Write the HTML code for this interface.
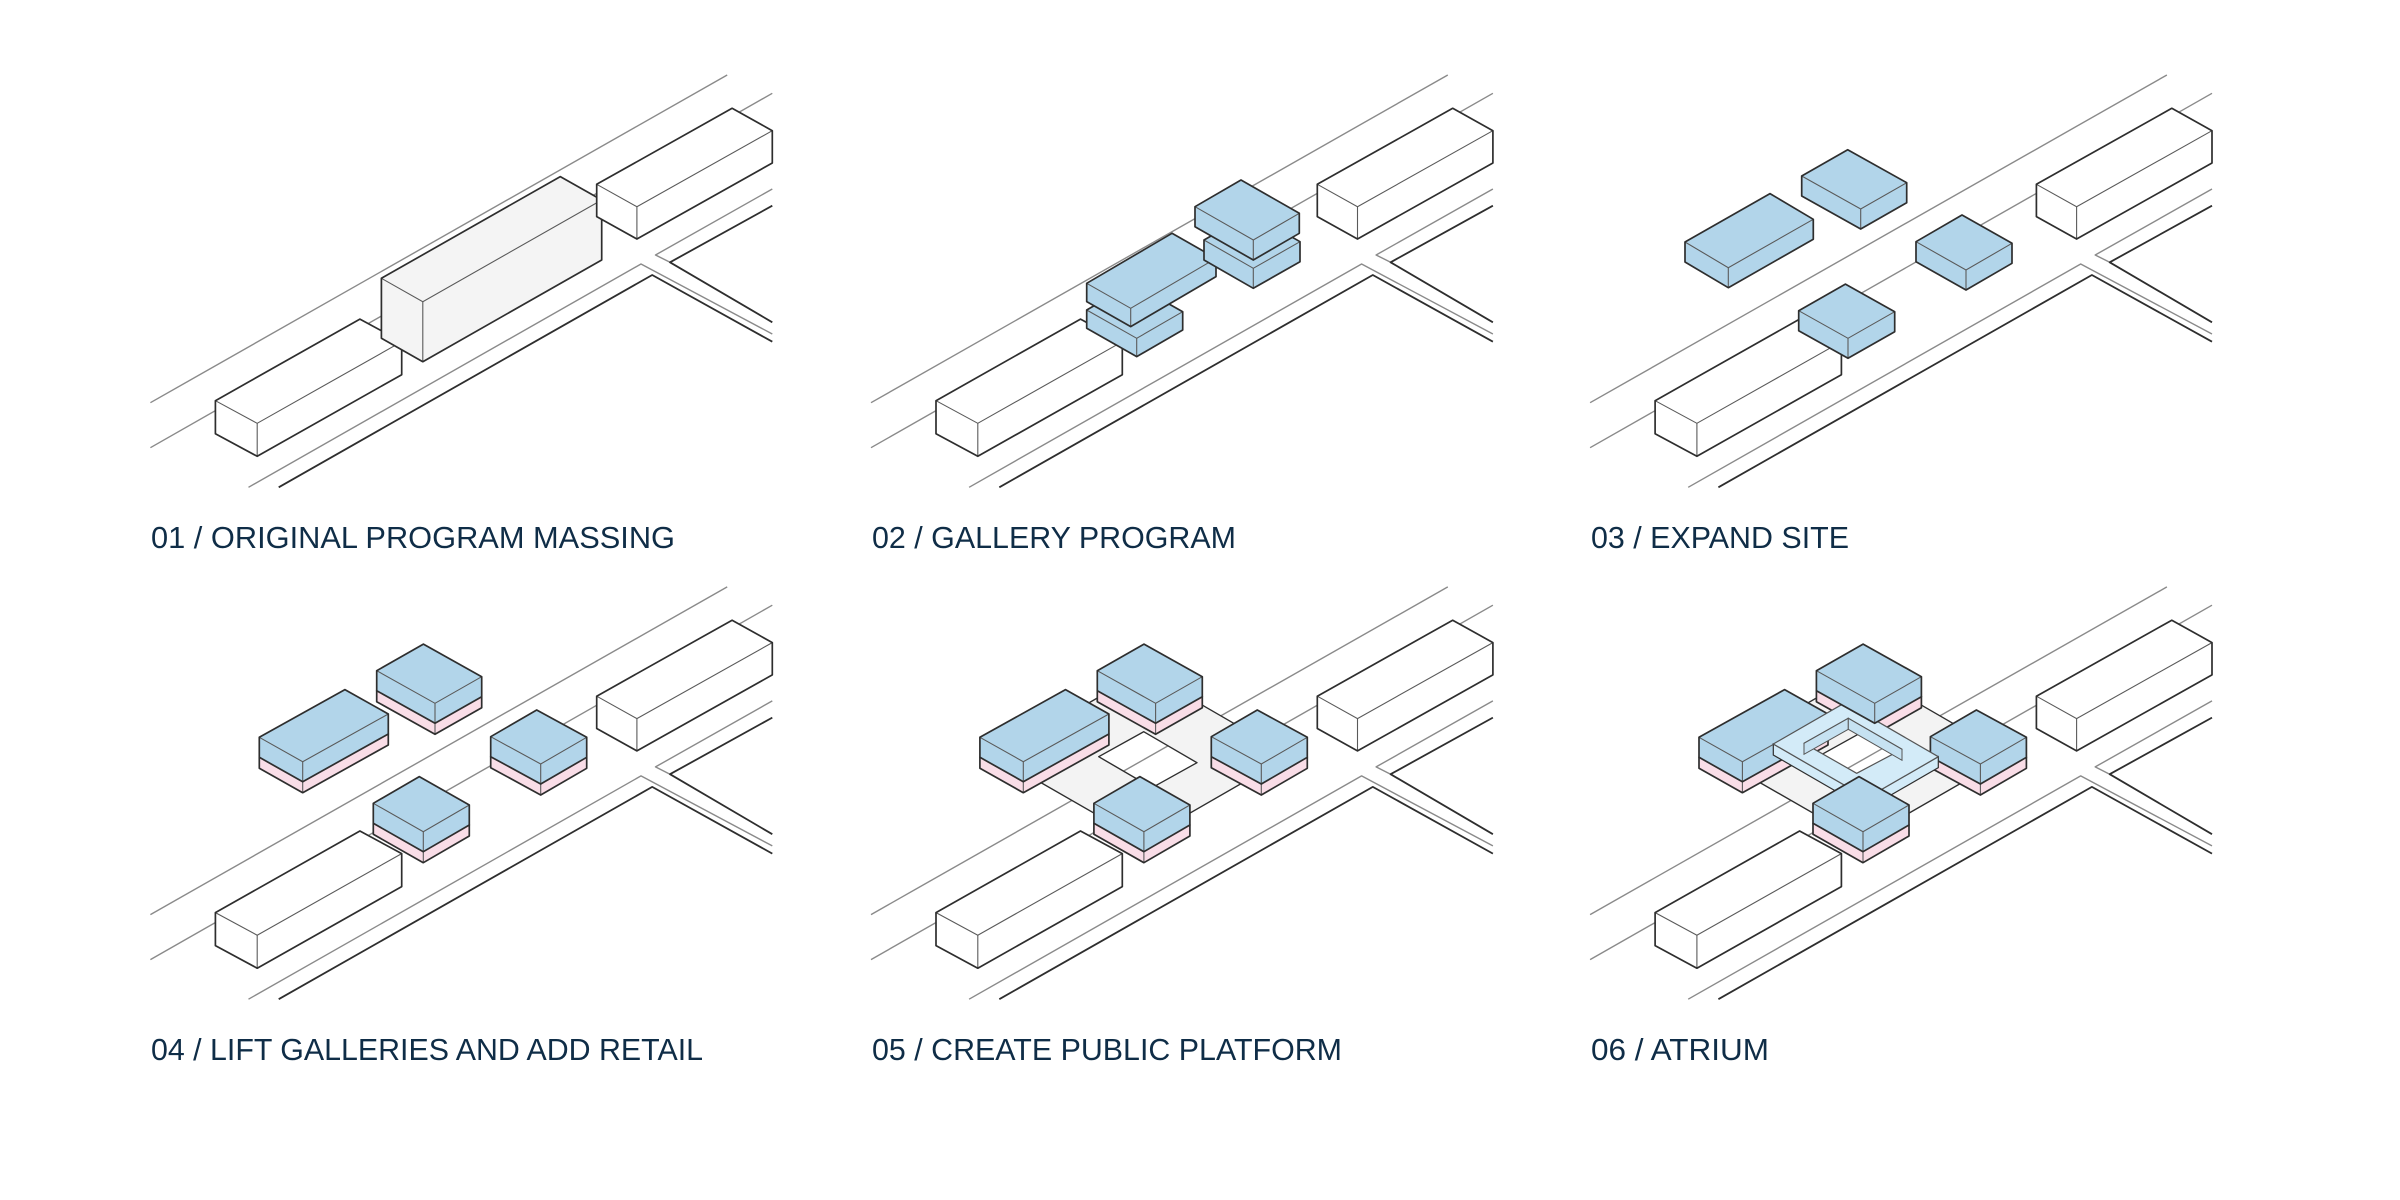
<!DOCTYPE html>
<html><head><meta charset="utf-8"><style>
html,body{margin:0;padding:0;background:#fff;}
svg{display:block;}
text{font-family:"Liberation Sans",sans-serif;font-size:31px;fill:#0f2d47;}
</style></head><body>
<svg id="s" xmlns="http://www.w3.org/2000/svg" width="2400" height="1200" viewBox="0 0 2400 1200">
<rect width="2400" height="1200" fill="#fff"/>
<g id="g"></g>
<text x="151" y="548" textLength="524" lengthAdjust="spacingAndGlyphs">01 / ORIGINAL PROGRAM MASSING</text>
<text x="872" y="548" textLength="364" lengthAdjust="spacingAndGlyphs">02 / GALLERY PROGRAM</text>
<text x="1591" y="548" textLength="258" lengthAdjust="spacingAndGlyphs">03 / EXPAND SITE</text>
<text x="151" y="1060" textLength="552" lengthAdjust="spacingAndGlyphs">04 / LIFT GALLERIES AND ADD RETAIL</text>
<text x="872" y="1060" textLength="470" lengthAdjust="spacingAndGlyphs">05 / CREATE PUBLIC PLATFORM</text>
<text x="1591" y="1060" textLength="178" lengthAdjust="spacingAndGlyphs">06 / ATRIUM</text>
</svg>
<script>
var G=document.getElementById('g'),NS='http://www.w3.org/2000/svg';
var GRAY='#8a8a8a',DARK='#2e2e2e';
var BLUE='#b2d5ea',PINK='#f9dde7',RING='#d3ebf8',PLAT='#f3f3f3';
function el(t,a){var e=document.createElementNS(NS,t);for(var k in a)e.setAttribute(k,a[k]);G.appendChild(e);return e;}
function P(a){return a.map(function(p){return p[0].toFixed(1)+','+p[1].toFixed(1)}).join(' ');}
function line(pts,c,w,ox,oy){el('polyline',{points:P(pts.map(function(p){return[p[0]+ox,p[1]+oy]})),fill:'none',stroke:c,'stroke-width':w,'stroke-linejoin':'round'});}
function box(L,F,R,h,fill,ox,oy){
 ox=ox||0;oy=oy||0;
 L=[L[0]+ox,L[1]+oy];F=[F[0]+ox,F[1]+oy];R=[R[0]+ox,R[1]+oy];
 var B=[L[0]+R[0]-F[0],L[1]+R[1]-F[1]];
 var d=function(p){return[p[0],p[1]+h]};
 el('polygon',{points:P([L,B,R,d(R),d(F),d(L)]),fill:fill,stroke:'none'});
 el('polyline',{points:P([L,F,R]),fill:'none',stroke:'#5a5a5a','stroke-width':1.1});
 el('line',{x1:F[0],y1:F[1],x2:F[0],y2:F[1]+h,stroke:'#5a5a5a','stroke-width':1.1});
 el('polygon',{points:P([L,B,R,d(R),d(F),d(L)]),fill:'none',stroke:DARK,'stroke-width':1.7,'stroke-linejoin':'round'});
}
function base(ox,oy,mid){
 line([[150.4,402.7],[727.2,75]],GRAY,1.4,ox,oy);
 line([[150.4,447.7],[772.3,93.3]],GRAY,1.4,ox,oy);
 line([[248.5,487.3],[641,264],[772.3,334]],GRAY,1.4,ox,oy);
 line([[278.7,487.3],[652.2,275],[772.3,341.7]],DARK,1.8,ox,oy);
 line([[772.3,189],[655.5,255],[670,262.3]],GRAY,1.4,ox,oy);
 line([[772.3,205.7],[670,262.3],[772.3,322.3]],DARK,1.8,ox,oy);
 box([215.4,400.7],[257.2,423.3],[401.7,341.7],33,'#fff',ox,oy);
 if(mid)box([381.4,278.3],[422.8,301.7],[601.7,200],60,'#f4f4f4',ox,oy);
 box([596.7,184.3],[636.9,206.7],[772.3,130.7],32.3,'#fff',ox,oy);
}
var X2=720.6,X3=1439.7,Y2=511.9;
base(0,0,true);
base(X2,0,false);
box([1086.7,310],[1136.7,338.3],[1182.7,311.7],18.3,BLUE);
box([1086.7,283.3],[1130.7,308.3],[1216,258.3],18.3,BLUE);
box([1204,240],[1253.3,268.3],[1300,241.7],20,BLUE);
box([1195,206.7],[1253.3,240],[1299.3,213.3],20,BLUE);
base(X3,0,false);
box([1801.7,176],[1860.7,209],[1906.7,182.7],20,BLUE);
box([1685,242],[1728.3,267.7],[1813.3,219.3],20,BLUE);
box([1916,241.7],[1966,270],[2012,243.3],20,BLUE);
box([1798.7,310.7],[1848,338.3],[1894.7,311.7],20,BLUE);
var LB=[
 [[376.7,670.7],[435,703.3],[481.7,676.7]],
 [[259.3,737.3],[302.7,761.7],[388.3,714]],
 [[490.7,736.7],[540.7,764],[586.7,737.3]],
 [[373.3,803.3],[423.3,831.7],[469.3,805]]
];
function pl(p){return[p[0],p[1]+20]}
function pinkBox(i,ox){var b=LB[i];box(pl(b[0]),pl(b[1]),pl(b[2]),11,PINK,ox,0);}
function blueBox(i,ox){var b=LB[i];box(b[0],b[1],b[2],20,BLUE,ox,0);}
function lifted(ox){for(var i=0;i<LB.length;i++){pinkBox(i,ox);blueBox(i,ox);}}
base(0,Y2,false);
lifted(0);
function platform(ox){
 var o=[[988.7,756.7],[1136.7,671.2],[1282.7,755.7],[1135,840.7]];
 var h=[[1091.7,756.7],[1136.7,731.7],[1190,762.7],[1145,787.7]];
 function pth(a){return 'M'+a.map(function(p){return (p[0]-X2+ox+7).toFixed(1)+','+p[1].toFixed(1)}).join('L')+'Z';}
 el('path',{d:pth(o)+pth(h),'fill-rule':'evenodd',fill:PLAT,stroke:DARK,'stroke-width':1.4,'stroke-linejoin':'round'});
}
base(X2,Y2,false);
platform(X2);
lifted(X2);
base(X3,Y2,false);
platform(X3);
function ring(){
 var T=[1845,702.7],L=[1773.3,744],R=[1938.3,756.7],B=[1866.7,798],h=11;
 var Ti=[1848.3,718.3],Li=[1804,743.3],Ri=[1902,749.3],Bi=[1856.7,773.3];
 var d=function(p){return[p[0],p[1]+h]};
 el('polygon',{points:P([L,B,d(B),d(L)]),fill:RING,stroke:DARK,'stroke-width':1.2});
 el('polygon',{points:P([B,R,d(R),d(B)]),fill:RING,stroke:DARK,'stroke-width':1.2});
 function pth(a){return 'M'+a.map(function(p){return p[0].toFixed(1)+','+p[1].toFixed(1)}).join('L')+'Z';}
 el('path',{d:pth([T,R,B,L])+pth([Ti,Ri,Bi,Li]),'fill-rule':'evenodd',fill:RING,stroke:'#555','stroke-width':1.2,'stroke-linejoin':'round'});
 el('polygon',{points:P([Li,Ti,d(Ti),d(Li)]),fill:'#c6e2f2',stroke:'#555','stroke-width':1});
 el('polygon',{points:P([Ti,Ri,d(Ri),d(Ti)]),fill:'#c6e2f2',stroke:'#555','stroke-width':1});
}
(function(){
 pinkBox(0,X3);pinkBox(1,X3);pinkBox(2,X3);
 blueBox(1,X3);blueBox(2,X3);
 ring();
 blueBox(0,X3);
 pinkBox(3,X3);blueBox(3,X3);
})();
</script>
</body></html>
